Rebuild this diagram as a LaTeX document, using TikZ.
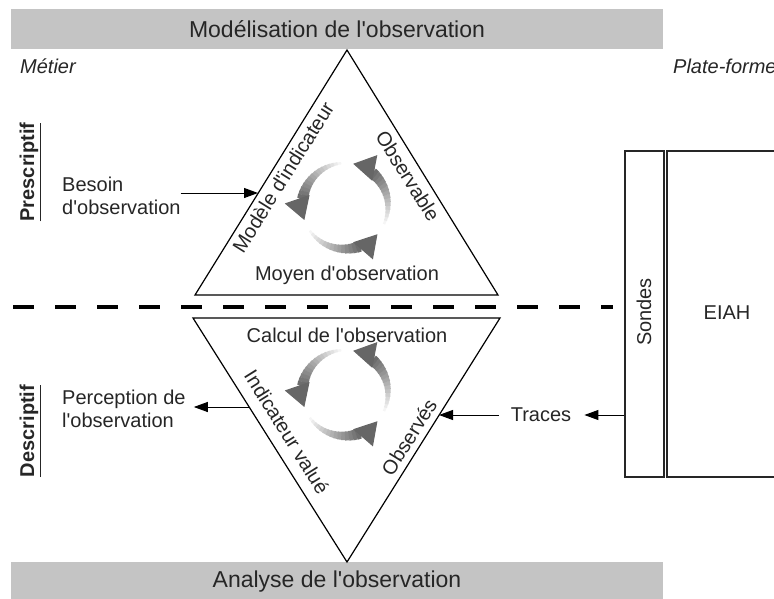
\documentclass[tikz,border=0pt]{standalone}
\usepackage{fontspec}
\setmainfont{Liberation Sans}[Ligatures=TeXOff]
\usetikzlibrary{arrows.meta}

\tikzset{
  txt/.style={text=black!85, font=\fontsize{20}{22.5}\selectfont, inner sep=0pt, align=left},
  side/.style={txt, font=\fontsize{20}{22.5}\selectfont\itshape},
  axe/.style={txt, font=\fontsize{20}{22.5}\selectfont\bfseries, rotate=90},
  bar/.style={fill=black!23, text=black!85, font=\fontsize{23}{26}\selectfont,
    minimum width=652pt, minimum height=40pt, inner sep=0pt},
  tri/.style={line width=1.2pt, line join=miter},
  box/.style={draw=black!85, line width=1.2pt, minimum height=326pt, inner sep=0pt},
  fleche/.style={line width=1pt, -{Triangle[length=14pt,width=10pt]}},
  dashline/.style={line width=4pt, dash pattern=on 21pt off 21pt},
  cyclehead/.style={line width=1pt, draw=black!60, fill=black!60,
    -{Triangle[length=22pt,width=26pt]}}
}

\begin{document}
\begin{tikzpicture}[x=1pt,y=-1pt]
\useasboundingbox (0,0) rectangle (774,598);

% bandeaux
\node[bar] (modelisation) at (337,29) {Modélisation de l'observation};
\node[bar] (analyse) at (337,582) {Analyse de l'observation};

\node[side, anchor=west] (metier) at (20,66) {Métier};
\node[side, anchor=west] (plateforme) at (673,66) {Plate-forme};

\node[axe] (prescriptif) at (30,172) {\underline{Prescriptif}};
\node[axe] (descriptif) at (30,431) {\underline{Descriptif}};

% triangles
\coordinate (a1) at (195,295);
\coordinate (b1) at (498,295);
\coordinate (c1) at (347,50);
\coordinate (a2) at (193,318);
\coordinate (b2) at (500,318);
\coordinate (c2) at (347,562);
\draw[tri] (a1) -- (b1) -- (c1) -- cycle;
\draw[tri] (a2) -- (b2) -- (c2) -- cycle;

\node[txt] (moyen) at (347,275) {Moyen d'observation};
\node[txt] (calcul) at (347,335) {Calcul de l'observation};
\node[txt, rotate=58] (modele) at (283,177) {Modèle d'indicateur};
\node[txt, rotate=-58] (observable) at (408,176) {Observable};
\node[txt, rotate=-58] (indicateur) at (287,432) {Indicateur valué};
\node[txt, rotate=58] (observes) at (409,437) {Observés};

% cycles
\coordinate (cu) at (345,206);
\coordinate (cd) at (345,393);
\foreach \c in {cu,cd}{
  \foreach \a in {95,215,335}{
    \foreach \i in {0,...,14}{
      \pgfmathsetmacro\sa{-\a-5*\i}
      \pgfmathsetmacro\ea{-\a-5*\i-5.6}
      \pgfmathsetmacro\sh{4+3.8*\i}
      \pgfmathsetmacro\lw{2.5+0.6*\i}
      \draw[black!\sh, line width=\lw pt] (\c) ++(\sa:43) arc[start angle=\sa, end angle=\ea, radius=43];
    }
    \draw[cyclehead] (\c) ++(-\a-74:43) arc[start angle=-\a-74, end angle=-\a-104, radius=43];
  }
}

% separation
\coordinate (dashl) at (13,307);
\coordinate (dashr) at (613,307);
\draw[dashline] (dashl) -- (dashr);

% plate-forme
\node[box, minimum width=39pt] (sondes) at (644.5,314) {};
\node[box, minimum width=120pt] (eiah) at (727,314) {};
\node[txt, rotate=90] (sondestxt) at (644,312) {Sondes};
\node[txt] (eiahtxt) at (727,313) {EIAH};

% entrees / sorties
\node[txt, anchor=west] (besoin) at (62,196) {Besoin\\d'observation};
\node[txt, anchor=west] (perception) at (62,409) {Perception de\\l'observation};
\node[txt] (traces) at (541,415) {Traces};

\coordinate (mi) at (258,193);
\coordinate (pi) at (249,407);
\coordinate (ti) at (439,415);

\draw[fleche] (besoin.east |- mi) -- (mi);
\draw[fleche, shorten >=8pt] (pi) -- (perception.east |- pi);
\draw[fleche, shorten >=13pt] (sondes.west |- traces) -- (traces.east);
\draw[fleche, shorten <=12pt] (traces.west) -- (ti);
\end{tikzpicture}
\end{document}
